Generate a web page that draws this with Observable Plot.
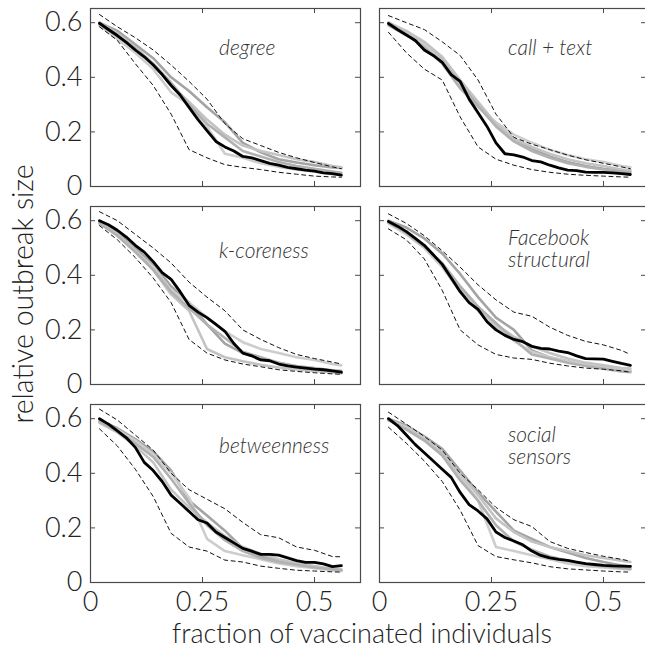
<!DOCTYPE html>
<html>
<head>
<meta charset="utf-8">
<script src="https://cdn.jsdelivr.net/npm/d3@7"></script>
<script src="https://cdn.jsdelivr.net/npm/@observablehq/plot@0.6"></script>
<style>
  html, body { margin: 0; padding: 0; background: #fff; overflow: hidden; }
  #chart { position: relative; width: 645px; height: 648px; overflow: hidden;
           font-family: Lato, "Open Sans", sans-serif; font-weight: 300; color: #222; }
  .panel { position: absolute; }
  .axis-title { position: absolute; line-height: 27px; white-space: nowrap; color: #222; }
</style>
</head>
<body>
<div id="chart"></div>
<script>
// Fraction of vaccinated individuals (x positions of the simulated curves)
const fractionFine = [0.02,0.04,0.06,0.08,0.10,0.12,0.14,0.16,0.18,0.20,0.22,0.24,0.26,0.28,
                      0.30,0.32,0.34,0.36,0.38,0.40,0.42,0.44,0.46,0.48,0.50,0.52,0.54,0.56];
const fractionCoarse = [0.02,0.06,0.10,0.14,0.18,0.22,0.26,0.30,0.34,0.38,0.42,0.46,0.50,0.54,0.56];

const xTicks = [0, 0.25, 0.5];
const yTicks = [0, 0.2, 0.4, 0.6];

const strategyNames = ["degree", "call + text", "k-coreness", "Facebook\nstructural", "betweenness", "social\nsensors"];

// degree
const degreeMain = [0.598,0.575,0.553,0.528,0.50,0.475,0.445,0.41,0.37,0.335,0.29,0.245,0.205,0.165,
                    0.145,0.13,0.11,0.105,0.095,0.085,0.078,0.07,0.065,0.06,0.056,0.05,0.047,0.042];
const degreeUpper = [0.63,0.585,0.545,0.50,0.445,0.385,0.32,0.23,0.175,0.15,0.125,0.105,0.088,0.072,0.065];
const degreeLower = [0.585,0.535,0.45,0.37,0.265,0.135,0.105,0.08,0.07,0.062,0.052,0.045,0.038,0.035,0.034];
const degreeOthers = [
  [0.60,0.57,0.52,0.47,0.40,0.35,0.29,0.235,0.16,0.125,0.10,0.088,0.078,0.07,0.068],
  [0.59,0.54,0.49,0.43,0.345,0.30,0.22,0.12,0.105,0.085,0.072,0.062,0.055,0.045,0.042],
  [0.60,0.56,0.51,0.45,0.37,0.31,0.245,0.19,0.15,0.13,0.115,0.10,0.09,0.075,0.07],
  [0.595,0.55,0.505,0.45,0.38,0.30,0.23,0.18,0.13,0.11,0.09,0.075,0.065,0.055,0.05]
];

// call + text
const callTextMain = [0.597,0.575,0.555,0.535,0.50,0.48,0.455,0.41,0.385,0.32,0.27,0.22,0.16,0.12,
                      0.116,0.108,0.095,0.09,0.078,0.068,0.06,0.058,0.053,0.052,0.052,0.05,0.047,0.044];
const callTextUpper = [0.626,0.60,0.575,0.53,0.48,0.39,0.265,0.18,0.155,0.135,0.115,0.098,0.085,0.072,0.065];
const callTextLower = [0.565,0.49,0.43,0.39,0.255,0.145,0.10,0.078,0.062,0.052,0.045,0.041,0.038,0.035,0.034];
const callTextOthers = [
  [0.60,0.565,0.525,0.47,0.385,0.30,0.225,0.175,0.14,0.11,0.09,0.075,0.065,0.058,0.055],
  [0.595,0.56,0.52,0.46,0.37,0.29,0.235,0.19,0.16,0.135,0.115,0.10,0.09,0.075,0.07],
  [0.60,0.57,0.53,0.475,0.39,0.31,0.23,0.175,0.145,0.12,0.10,0.085,0.075,0.062,0.06],
  [0.59,0.555,0.51,0.45,0.36,0.295,0.22,0.165,0.13,0.105,0.085,0.072,0.062,0.055,0.05]
];

// k-coreness
const coreMain = [0.60,0.585,0.565,0.54,0.51,0.485,0.45,0.41,0.385,0.34,0.29,0.265,0.245,0.22,
                  0.195,0.15,0.115,0.105,0.09,0.087,0.075,0.068,0.064,0.06,0.056,0.054,0.05,0.045];
const coreUpper = [0.633,0.60,0.55,0.50,0.445,0.375,0.32,0.27,0.20,0.165,0.135,0.11,0.095,0.082,0.075];
const coreLower = [0.582,0.53,0.465,0.39,0.30,0.165,0.115,0.09,0.075,0.065,0.054,0.048,0.043,0.039,0.037];
const coreOthers = [
  [0.595,0.56,0.50,0.44,0.36,0.30,0.22,0.15,0.115,0.095,0.08,0.065,0.055,0.045,0.042],
  [0.59,0.55,0.49,0.43,0.345,0.30,0.245,0.195,0.155,0.13,0.115,0.10,0.09,0.075,0.07],
  [0.595,0.55,0.49,0.42,0.33,0.27,0.13,0.10,0.085,0.072,0.062,0.055,0.05,0.045,0.042],
  [0.59,0.545,0.485,0.42,0.34,0.28,0.22,0.17,0.12,0.10,0.08,0.068,0.06,0.052,0.05]
];

// Facebook structural
const facebookMain = [0.597,0.58,0.56,0.535,0.51,0.475,0.44,0.39,0.34,0.30,0.275,0.23,0.20,0.18,
                      0.165,0.157,0.14,0.132,0.13,0.122,0.117,0.105,0.095,0.094,0.093,0.085,0.077,0.07];
const facebookUpper = [0.625,0.59,0.545,0.49,0.43,0.365,0.31,0.265,0.25,0.21,0.18,0.158,0.145,0.125,0.11];
const facebookLower = [0.57,0.53,0.46,0.345,0.20,0.145,0.11,0.097,0.092,0.078,0.068,0.06,0.056,0.05,0.045];
const facebookOthers = [
  [0.60,0.575,0.535,0.48,0.405,0.32,0.245,0.20,0.125,0.10,0.085,0.07,0.06,0.052,0.05],
  [0.59,0.55,0.50,0.43,0.34,0.27,0.21,0.16,0.12,0.10,0.085,0.072,0.062,0.055,0.05],
  [0.595,0.56,0.51,0.44,0.35,0.285,0.22,0.175,0.14,0.115,0.095,0.08,0.07,0.06,0.058],
  [0.595,0.555,0.505,0.445,0.36,0.285,0.225,0.165,0.11,0.095,0.08,0.068,0.058,0.048,0.045]
];

// betweenness
const betweenMain = [0.60,0.58,0.555,0.53,0.495,0.44,0.41,0.37,0.32,0.29,0.26,0.23,0.218,0.185,
                     0.165,0.145,0.125,0.115,0.103,0.103,0.10,0.09,0.08,0.074,0.074,0.068,0.058,0.062];
const betweenUpper = [0.635,0.595,0.54,0.485,0.40,0.34,0.305,0.27,0.22,0.175,0.164,0.13,0.118,0.095,0.094];
const betweenLower = [0.563,0.50,0.415,0.315,0.18,0.13,0.115,0.082,0.075,0.06,0.052,0.045,0.042,0.039,0.038];
const betweenOthers = [
  [0.595,0.565,0.525,0.48,0.41,0.30,0.245,0.19,0.125,0.095,0.08,0.065,0.055,0.048,0.045],
  [0.59,0.56,0.52,0.47,0.40,0.31,0.16,0.115,0.10,0.085,0.07,0.06,0.052,0.045,0.042],
  [0.585,0.55,0.50,0.44,0.34,0.275,0.22,0.17,0.13,0.105,0.085,0.07,0.06,0.05,0.048],
  [0.59,0.555,0.51,0.46,0.38,0.29,0.21,0.155,0.115,0.09,0.075,0.065,0.055,0.048,0.045]
];

// social sensors
const sensorsMain = [0.60,0.575,0.54,0.505,0.475,0.445,0.415,0.385,0.33,0.285,0.262,0.233,0.185,0.165,
                     0.152,0.138,0.115,0.099,0.09,0.085,0.081,0.075,0.069,0.066,0.063,0.061,0.06,0.059];
const sensorsUpper = [0.624,0.58,0.535,0.485,0.40,0.34,0.275,0.23,0.205,0.15,0.125,0.11,0.096,0.085,0.078];
const sensorsLower = [0.569,0.51,0.445,0.37,0.265,0.135,0.095,0.083,0.072,0.058,0.05,0.046,0.042,0.039,0.038];
const sensorsOthers = [
  [0.60,0.575,0.535,0.49,0.41,0.33,0.26,0.19,0.16,0.13,0.11,0.09,0.075,0.062,0.058],
  [0.595,0.57,0.53,0.475,0.39,0.30,0.13,0.115,0.10,0.085,0.07,0.06,0.055,0.05,0.048],
  [0.595,0.565,0.525,0.475,0.40,0.32,0.235,0.185,0.15,0.13,0.115,0.10,0.09,0.08,0.075],
  [0.595,0.56,0.52,0.465,0.375,0.30,0.21,0.15,0.12,0.095,0.08,0.068,0.06,0.052,0.05]
];

// Vertical placement (data units) of the baseline of each strategy name's first line
const nameBaseline = [0.48, 0.48, 0.465, 0.51, 0.473, 0.515];
const nameX = 0.287;

const strategies = [
  {main: degreeMain,   upper: degreeUpper,   lower: degreeLower,   others: degreeOthers},
  {main: callTextMain, upper: callTextUpper, lower: callTextLower, others: callTextOthers},
  {main: coreMain,     upper: coreUpper,     lower: coreLower,     others: coreOthers},
  {main: facebookMain, upper: facebookUpper, lower: facebookLower, others: facebookOthers},
  {main: betweenMain,  upper: betweenUpper,  lower: betweenLower,  others: betweenOthers},
  {main: sensorsMain,  upper: sensorsUpper,  lower: sensorsLower,  others: sensorsOthers}
];

// Layout of the 3 x 2 grid of frames (pixels); both columns share 448 px per unit of x
const pxPerUnit = 448;
const frameWidths = [270, 267];
const frameH = 178;
const colLeft = [90, 379];
const rowTop = [8, 206, 404];
const grayTones = ["#a4a4a4", "#cdcdcd", "#c3c3c3", "#b1b1b1"];
const frameColor = "#4a4a4a";
const nameSize = 21, nameGap = 22;
const fmt = d => d === 0 ? "0" : String(d);

const pts = (xs, ys) => xs.map((x, i) => ({x, y: ys[i]}));

const chart = document.getElementById("chart");

strategies.forEach((s, k) => {
  const r = Math.floor(k / 2), c = k % 2;
  const frameW = frameWidths[c];
  const ml = c === 0 ? 90 : 12, mr = 12, mt = 10, mb = r === 2 ? 50 : 12;
  const marks = [];

  s.others.forEach((ys, i) => marks.push(Plot.line(pts(fractionCoarse, ys), {
    x: "x", y: "y", stroke: grayTones[i], strokeWidth: 2.6, strokeLinejoin: "round"
  })));
  [s.upper, s.lower].forEach(ys => marks.push(Plot.line(pts(fractionCoarse, ys), {
    x: "x", y: "y", stroke: "#111", strokeWidth: 1, strokeDasharray: "4,3.5"
  })));
  marks.push(Plot.line(pts(fractionFine, s.main), {
    x: "x", y: "y", stroke: "#000", strokeWidth: 2.8, strokeLinejoin: "round"
  }));

  // strategy name, one text element per line
  strategyNames[k].split("\n").forEach((line, j) => marks.push(Plot.text([line], {
    x: () => nameX, y: () => nameBaseline[k], text: d => d, dy: j * nameGap,
    textAnchor: "start", lineAnchor: "bottom",
    fontStyle: "italic", fontSize: nameSize, fill: "#333"
  })));

  // inward ticks on all four sides of the frame
  const xIn = xTicks.filter(d => d > 0), yIn = yTicks.filter(d => d > 0);
  marks.push(Plot.tickX(xIn, {x: d => d, insetTop: frameH - 5, stroke: frameColor}));
  marks.push(Plot.tickX(xIn, {x: d => d, insetBottom: frameH - 5, stroke: frameColor}));
  marks.push(Plot.tickY(yIn, {y: d => d, insetRight: frameW - 5, stroke: frameColor}));
  marks.push(Plot.tickY(yIn, {y: d => d, insetLeft: frameW - 5, stroke: frameColor}));

  if (c === 0) marks.push(Plot.axisY({ticks: yTicks, tickFormat: fmt, tickSize: 0, tickPadding: 8,
                                     fontSize: 27, label: null}));
  if (r === 2) marks.push(Plot.axisX({ticks: xTicks, tickFormat: fmt, tickSize: 0, tickPadding: 9,
                                     fontSize: 27, label: null}));

  marks.push(Plot.frame({stroke: frameColor, strokeWidth: 1.2}));

  const svg = Plot.plot({
    width: ml + frameW + mr,
    height: mt + frameH + mb,
    marginLeft: ml, marginRight: mr, marginTop: mt, marginBottom: mb,
    x: {domain: [0, frameW / pxPerUnit], axis: null},
    y: {domain: [0, 0.652], axis: null},
    style: {fontFamily: "Lato, 'Open Sans', sans-serif", fontWeight: 300, background: "transparent",
            overflow: "visible", color: "#222"},
    marks
  });
  svg.classList.add("panel");
  svg.style.left = (colLeft[c] - ml) + "px";
  svg.style.top = (rowTop[r] - mt) + "px";
  svg.style.maxWidth = "none";
  chart.appendChild(svg);
});

const xTitle = document.createElement("div");
xTitle.className = "axis-title";
xTitle.textContent = "fraction of vaccinated individuals";
xTitle.style.fontSize = "27px";
xTitle.style.left = "362px";
xTitle.style.top = "619px";
xTitle.style.transform = "translateX(-50%)";
chart.appendChild(xTitle);

const yTitle = document.createElement("div");
yTitle.className = "axis-title";
yTitle.textContent = "relative outbreak size";
yTitle.style.fontSize = "28.5px";
yTitle.style.left = "22px";
yTitle.style.top = "294px";
yTitle.style.transform = "translate(-50%, -50%) rotate(-90deg)";
chart.appendChild(yTitle);
</script>
</body>
</html>
